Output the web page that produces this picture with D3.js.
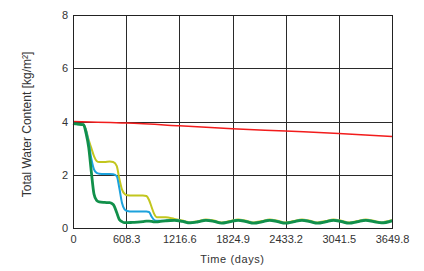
<!DOCTYPE html>
<html>
<head>
<meta charset="utf-8">
<script src="https://cdn.jsdelivr.net/npm/d3@7"></script>
<style>
  body { margin: 0; background: #fff; }
  text { font-family: "Liberation Sans", Arial, sans-serif; fill: #333; }
</style>
</head>
<body>
<svg width="424" height="271"></svg>
<script>
// time axis (days)
var days = [0, 60, 120, 150, 180, 210, 240, 270, 300, 360, 420, 460, 500, 530, 560, 590, 620, 680, 740, 800,
  840, 870, 900, 930, 960, 1000, 1060, 1160, 1250, 1340, 1430, 1520, 1610, 1700, 1790, 1890, 1980, 2070,
  2160, 2250, 2340, 2430, 2520, 2620, 2710, 2800, 2890, 2980, 3070, 3160, 3250, 3350, 3440, 3530, 3649.8];

var greenValues = [3.92, 3.9, 3.88, 3.55, 3.02, 2.1, 1.28, 1.04, 0.98, 0.96, 0.95, 0.88, 0.58, 0.32, 0.24, 0.2,
  0.2, 0.21, 0.22, 0.24, 0.26, 0.26, 0.25, 0.23, 0.23, 0.25, 0.27, 0.29, 0.25, 0.19, 0.23, 0.29, 0.25, 0.18,
  0.23, 0.29, 0.24, 0.18, 0.23, 0.29, 0.24, 0.18, 0.23, 0.29, 0.24, 0.18, 0.23, 0.29, 0.24, 0.18, 0.23, 0.29,
  0.24, 0.19, 0.27];

var blueValues = [3.92, 3.9, 3.88, 3.65, 3.2, 2.6, 2.2, 2.07, 2.04, 2.03, 2.03, 2.02, 1.95, 1.5, 0.95, 0.7,
  0.64, 0.62, 0.62, 0.62, 0.62, 0.6, 0.42, 0.3, 0.27, 0.27, 0.28, 0.3, 0.26, 0.2, 0.24, 0.3, 0.26, 0.19,
  0.24, 0.3, 0.25, 0.19, 0.24, 0.3, 0.25, 0.19, 0.24, 0.3, 0.25, 0.19, 0.24, 0.3, 0.25, 0.19, 0.24, 0.3,
  0.25, 0.2, 0.28];

var yellowValues = [3.92, 3.9, 3.88, 3.68, 3.3, 3.0, 2.7, 2.52, 2.48, 2.48, 2.5, 2.48, 2.33, 1.85, 1.45, 1.28,
  1.23, 1.22, 1.22, 1.22, 1.2, 1.05, 0.78, 0.52, 0.4, 0.4, 0.4, 0.34, 0.28, 0.22, 0.26, 0.32, 0.28, 0.21,
  0.26, 0.32, 0.27, 0.21, 0.26, 0.32, 0.27, 0.21, 0.26, 0.32, 0.27, 0.21, 0.26, 0.32, 0.27, 0.21, 0.26, 0.32,
  0.27, 0.22, 0.3];

var redDays = [0, 608.3, 1216.6, 1824.9, 2433.2, 3041.5, 3649.8];
var redValues = [4.0, 3.94, 3.84, 3.73, 3.64, 3.55, 3.44];

var xTicks = [0, 608.3, 1216.6, 1824.9, 2433.2, 3041.5, 3649.8];
var yTicks = [0, 2, 4, 6, 8];

var margin = {top: 15, right: 32, bottom: 43, left: 73};
var width = 424 - margin.left - margin.right;
var height = 271 - margin.top - margin.bottom;

var svg = d3.select("svg");
var g = svg.append("g").attr("transform", "translate(" + margin.left + "," + margin.top + ")");

var x = d3.scaleLinear().domain([0, 3649.8]).range([0, width]);
var y = d3.scaleLinear().domain([0, 8]).range([height, 0]);

// grid
g.selectAll(".vgrid").data(xTicks).enter().append("line")
  .attr("x1", function(d) { return Math.round(x(d)) + 0.5; })
  .attr("x2", function(d) { return Math.round(x(d)) + 0.5; })
  .attr("y1", 0).attr("y2", height)
  .attr("stroke", "#2a2a2a").attr("stroke-width", 1);
g.selectAll(".hgrid").data(yTicks).enter().append("line")
  .attr("y1", function(d) { return Math.round(y(d)) + 0.5; })
  .attr("y2", function(d) { return Math.round(y(d)) + 0.5; })
  .attr("x1", 0).attr("x2", width)
  .attr("stroke", "#2a2a2a").attr("stroke-width", 1);

// axes labels
var xAxis = d3.axisBottom(x).tickValues(xTicks).tickSize(0).tickPadding(7)
  .tickFormat(function(d) { return d === 0 ? "0" : d3.format(".1f")(d); });
var yAxis = d3.axisLeft(y).tickValues(yTicks).tickSize(0).tickPadding(5);

var xa = g.append("g").attr("transform", "translate(0," + height + ")").call(xAxis);
var ya = g.append("g").call(yAxis);
[xa, ya].forEach(function(a) {
  a.select(".domain").remove();
  a.selectAll("text").attr("font-size", 11).attr("fill", "#444")
    .style("font-family", "'Liberation Sans', Arial, sans-serif");
});

// series
var line = d3.line()
  .x(function(d) { return x(d[0]); })
  .y(function(d) { return y(d[1]); })
  .curve(d3.curveMonotoneX);

function pairs(xs, ys) { return xs.map(function(d, i) { return [d, ys[i]]; }); }

var series = [
  {values: pairs(redDays, redValues), color: "#f21c1c", w: 1.5},
  {values: pairs(days, yellowValues), color: "#c2c61e", w: 2},
  {values: pairs(days, blueValues), color: "#1ca2dc", w: 2},
  {values: pairs(days, greenValues), color: "#11904a", w: 2.8}
];

g.selectAll(".series").data(series).enter().append("path")
  .attr("d", function(d) { return line(d.values); })
  .attr("fill", "none")
  .attr("stroke", function(d) { return d.color; })
  .attr("stroke-width", function(d) { return d.w; })
  .attr("stroke-linejoin", "round");

// frame
g.append("rect").attr("x", 0.5).attr("y", 0.5).attr("width", width).attr("height", height)
  .attr("fill", "none").attr("stroke", "#222").attr("stroke-width", 1);

// titles
svg.append("text")
  .attr("x", margin.left + width / 2).attr("y", 263)
  .attr("text-anchor", "middle").attr("font-size", 11).attr("fill", "#444")
  .style("letter-spacing", "0.6px")
  .text("Time (days)");

svg.append("text")
  .attr("transform", "translate(31," + (margin.top + height / 2 + 3) + ") rotate(-90)")
  .attr("text-anchor", "middle").attr("font-size", 12).attr("fill", "#444")
  .text("Total Water Content [kg/m²]");
</script>
</body>
</html>
